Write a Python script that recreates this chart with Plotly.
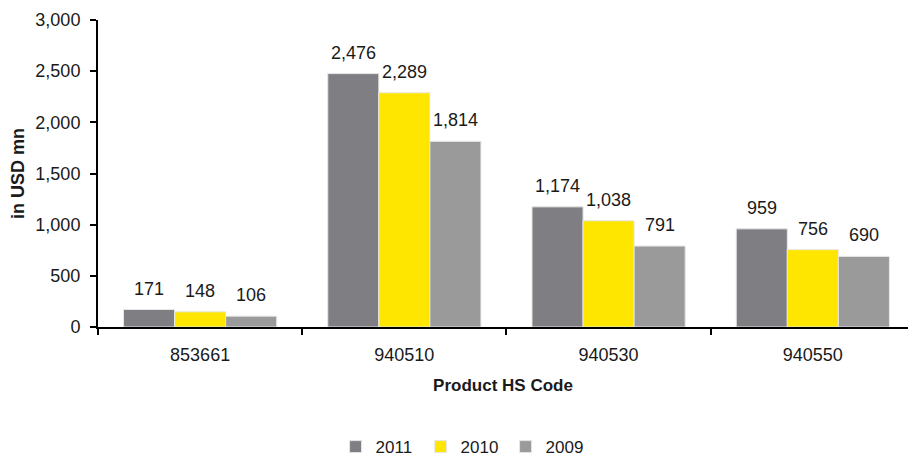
import plotly.graph_objects as go

codes = ["853661", "940510", "940530", "940550"]
years = ["2011", "2010", "2009"]
values_2011 = [171, 2476, 1174, 959]
values_2010 = [148, 2289, 1038, 756]
values_2009 = [106, 1814, 791, 690]
series = [values_2011, values_2010, values_2009]
colors = ["#7f7e83", "#ffe600", "#9a9a9a"]

FONT = "Liberation Sans Narrow, Arial Narrow, Liberation Sans, Arial, sans-serif"
INK = "#1a1a1a"

fig = go.Figure()
for name, vals, col in zip(years, series, colors):
    fig.add_trace(go.Bar(
        name=name, x=codes, y=vals,
        marker=dict(color=col, line=dict(color="#e6e6e6", width=1)),
    ))

# value labels above each bar (category index used as x position)
plot_w = 908 - 98
x_range = [-0.5, 3.466]
cat_px = plot_w / (x_range[1] - x_range[0])
bar_px = cat_px * 0.75 / 3
annotations = []
for i, vals in enumerate(series):
    for k, v in enumerate(vals):
        annotations.append(dict(
            x=k, y=v, xref="x", yref="y",
            text=f"{v:,}", showarrow=False,
            xanchor="center", yanchor="bottom",
            xshift=(i - 1) * bar_px, yshift=9,
            font=dict(family=FONT, size=18, color=INK),
        ))

fig.update_layout(
    width=908, height=459,
    margin=dict(l=98, r=0, t=20, b=132, autoexpand=False),
    paper_bgcolor="white", plot_bgcolor="white",
    barmode="group", bargap=0.25, bargroupgap=0,
    font=dict(family=FONT, size=16, color=INK),
    showlegend=True,
    legend=dict(orientation="h", xref="container", x=0.51, xanchor="center",
                yref="container", y=0.026, yanchor="middle",
                font=dict(family=FONT, size=17, color=INK),
                entrywidth=40, tracegroupgap=0),
    annotations=annotations,
)
fig.update_xaxes(
    type="category", range=x_range, showline=True, linecolor="black", linewidth=2,
    ticks="outside", tickson="boundaries", ticklen=6, tickcolor="black", tickwidth=1.5,
    ticklabelstandoff=10,
    tickfont=dict(family=FONT, size=18, color=INK),
    title=dict(text="<b>Product HS Code</b>", standoff=16,
               font=dict(family=FONT, size=17, color=INK)),
    showgrid=False, zeroline=False,
)
fig.update_yaxes(
    range=[0, 3000], dtick=500, tickformat=",",
    showline=True, linecolor="black", linewidth=2,
    ticks="outside", ticklen=6, tickcolor="black", tickwidth=1.5,
    ticklabelstandoff=6,
    tickfont=dict(family=FONT, size=18, color=INK),
    title=dict(text="<b>in USD mn</b>", standoff=6,
               font=dict(family=FONT, size=18, color=INK)),
    showgrid=False, zeroline=False,
)

fig.write_html("out.html")
